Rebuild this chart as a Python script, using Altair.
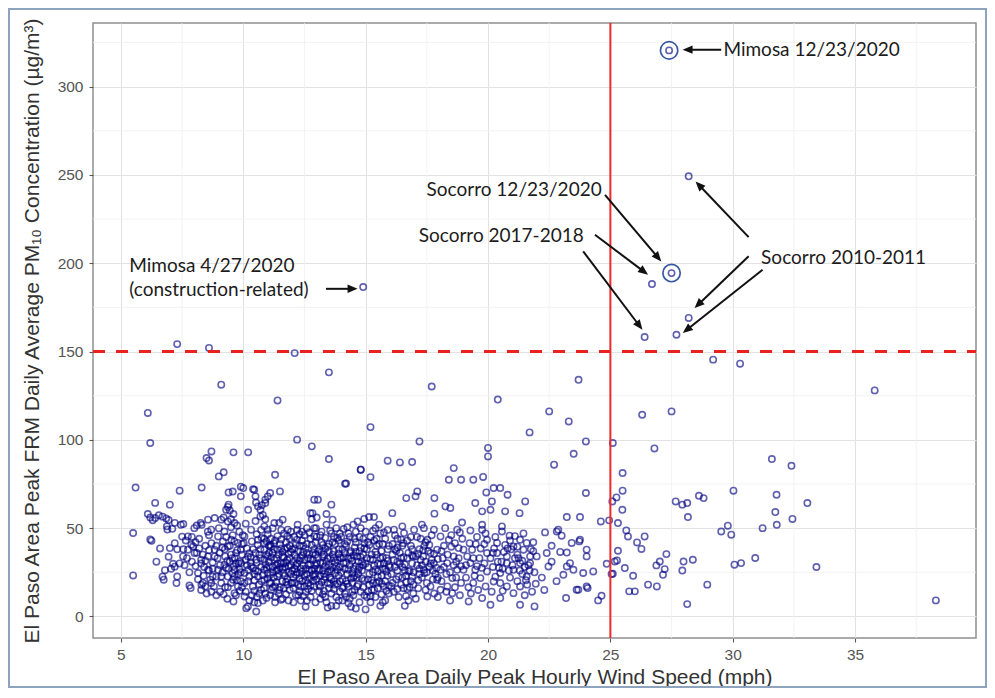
import math
import altair as alt
import pandas as pd

# ---------------- data ----------------
# [wind speed (mph), PM10 (ug/m3)]
pts_outliers = [
    [27.4, 320.5], [28.2, 249.2], [27.5, 194.4], [26.7, 188.2], [26.4, 158.2], [28.2, 169.0], [27.7, 159.5],
    [14.9, 186.5], [7.3, 154.2], [8.6, 152.0], [12.1, 149.1], [29.2, 145.4], [30.3, 143.1], [35.8, 128.0],
    [13.5, 138.2], [9.1, 131.2], [17.7, 130.2], [23.7, 134.0], [11.4, 122.3], [20.4, 122.8], [6.1, 115.2],
    [22.5, 116.1], [26.3, 114.2], [27.5, 116.1], [23.3, 110.4], [15.2, 107.2], [21.7, 104.2], [12.2, 100.1],
    [6.2, 98.2], [17.2, 99.1], [24.0, 99.1], [25.1, 98.2], [12.8, 96.3], [20.0, 95.4], [26.8, 95.1],
    [8.7, 93.4], [9.6, 92.9], [10.2, 92.9], [23.5, 92.1], [20.0, 90.6], [8.5, 89.7], [8.6, 88.3],
    [13.5, 89.1], [31.6, 89.1], [15.9, 88.2], [16.4, 87.2], [16.9, 87.4], [22.7, 85.9], [32.4, 85.3],
    [18.6, 84.0], [14.8, 83.1], [9.2, 81.6], [25.5, 81.2], [11.3, 80.2], [9.0, 79.3], [15.2, 78.9],
    [19.8, 79.0], [18.4, 77.4], [18.9, 77.4], [19.4, 77.4], [14.2, 75.3], [38.3, 9.1],
]

pts_wind_5_10 = [
    [5.6, 73.0], [5.5, 47.2], [5.5, 23.2], [6.1, 58.0], [6.2, 56.0], [6.3, 54.5], [6.2, 43.6], [6.25, 42.9],
    [6.4, 64.3], [6.45, 31.0], [6.55, 57.3], [6.4, 55.7], [6.7, 56.5], [6.85, 55.5], [6.95, 54.6], [6.8, 26.2],
    [6.75, 20.8], [6.7, 22.5], [7.0, 63.3], [6.9, 49.2], [7.1, 49.6], [7.2, 53.0], [7.45, 51.9], [7.55, 52.3],
    [7.0, 38.7], [7.2, 41.5], [7.3, 38.0], [7.2, 28.2], [7.3, 22.6], [7.27, 18.9], [7.5, 45.2], [7.55, 38.0],
    [7.7, 33.0], [7.85, 16.1], [7.9, 45.0], [7.95, 39.6], [6.88, 51.0], [7.13, 29.8], [7.54, 34.0], [7.74, 37.8],
    [7.74, 45.3], [7.88, 40.6], [7.8, 17.5], [7.4, 71.2], [7.05, 27.0], [6.6, 38.5], [6.95, 33.8],
    [8.0, 50.0], [8.1, 51.5], [8.26, 53.0], [8.3, 51.9], [8.56, 54.8], [8.83, 55.7], [8.1, 36.0], [8.28, 30.0],
    [8.35, 19.0], [8.28, 15.0], [8.55, 48.0], [8.6, 46.0], [8.7, 41.5], [8.83, 37.7], [8.6, 26.0], [8.75, 22.6],
    [8.65, 20.8], [8.8, 17.0], [8.01, 35.9], [8.28, 32.1], [8.56, 34.0], [8.15, 24.6], [8.29, 17.9], [8.69, 18.9],
    [8.83, 34.0], [8.97, 26.4], [8.56, 26.4], [8.9, 22.6], [8.69, 49.1], [8.97, 45.3], [8.4, 28.0], [8.5, 13.0],
    [8.9, 12.0], [8.45, 40.0], [8.2, 44.0], [8.75, 30.5], [8.3, 73.0], [8.05, 42.0], [8.38, 23.0],
    [9.1, 54.8], [9.37, 53.8], [9.64, 52.9], [9.2, 56.0], [9.5, 55.0], [9.37, 62.0], [9.45, 60.0], [9.57, 70.7],
    [9.17, 42.5], [9.37, 39.6], [9.57, 46.0], [9.64, 42.5], [9.03, 36.0], [9.26, 34.0], [9.5, 35.0], [9.7, 30.0],
    [9.1, 22.6], [9.26, 16.6], [9.37, 16.6], [9.5, 19.0], [9.64, 22.6], [9.84, 48.0], [9.98, 46.0], [9.9, 37.7],
    [9.1, 18.9], [9.23, 29.3], [9.58, 20.8], [9.78, 17.0], [9.85, 31.1], [9.23, 48.1], [9.51, 43.4], [9.78, 41.6],
    [9.64, 13.2], [9.64, 26.4], [9.91, 30.2], [9.37, 22.6], [9.2, 12.5], [9.3, 27.5], [9.8, 24.0], [9.45, 31.0],
    [9.15, 25.0], [9.7, 12.0], [9.9, 20.0], [9.4, 70.2], [9.9, 68.0], [9.9, 73.5], [9.4, 63.3], [9.3, 60.4],
    [9.6, 58.0], [9.0, 50.0],
    [7.6, 29.0], [7.8, 25.0], [7.9, 31.0], [8.05, 28.5], [8.2, 38.5], [8.35, 35.0], [8.45, 31.5], [8.6, 37.5],
    [8.75, 27.0], [8.9, 40.0], [8.95, 33.0], [8.15, 21.0], [8.45, 17.0], [8.7, 14.0], [9.05, 29.0], [9.15, 39.0],
    [9.3, 45.0], [9.4, 27.0], [9.55, 24.5], [9.65, 33.0], [9.75, 37.5], [9.85, 26.5], [9.95, 35.0], [9.05, 14.0],
    [9.35, 10.0], [9.6, 8.5], [9.85, 14.5], [9.95, 41.0], [9.5, 50.5], [9.75, 51.5], [7.4, 30.0], [7.65, 43.0],
    [9.6, 28.5], [9.7, 36.0], [9.8, 30.0], [9.9, 25.0], [9.45, 40.0], [9.55, 33.0], [9.35, 31.5], [9.25, 38.0],
    [9.95, 16.5], [9.75, 20.5],
]

pts_wind_10_15 = [
    [10.0, 72.7], [10.4, 72.1], [10.5, 68.0], [10.9, 66.1], [11.0, 68.0], [10.6, 62.3], [10.9, 64.2], [10.2, 60.4],
    [10.7, 60.4], [10.7, 56.6], [10.45, 71.7], [10.52, 64.5], [10.76, 63.0], [10.8, 57.5],
    [10.05, 11.3], [10.19, 5.7], [10.53, 2.8], [10.6, 7.6], [10.12, 4.7], [10.05, 45.3], [10.32, 49.1],
    [10.6, 43.4], [10.86, 41.6], [11.0, 49.1], [10.05, 24.6], [10.32, 28.3], [10.6, 22.6], [10.86, 26.4],
    [11.07, 18.9], [10.73, 15.1], [10.39, 17.0], [10.05, 18.9], [10.19, 34.0], [10.53, 32.1], [10.86, 32.1],
    [10.02, 41.5], [10.25, 35.8], [10.3, 30.5], [10.25, 22.6], [10.2, 26.4], [10.45, 20.5], [10.45, 14.5],
    [10.73, 49.0], [10.86, 51.0], [10.59, 40.5], [10.86, 37.7], [10.73, 28.0], [10.86, 20.8], [10.4, 38.0],
    [10.5, 26.0], [10.7, 33.0], [10.15, 29.0], [10.95, 35.0], [10.55, 11.0], [10.9, 13.0], [10.65, 18.0],
    [10.45, 24.0], [10.1, 14.0], [10.8, 9.0],
    [10.15, 38.5], [10.35, 42.5], [10.55, 46.5], [10.75, 44.5], [10.95, 42.5], [10.1, 32.0], [10.3, 33.5],
    [10.5, 36.0], [10.7, 38.0], [10.9, 29.5], [10.2, 20.0], [10.4, 27.5], [10.6, 25.5], [10.8, 23.5],
    [11.0, 21.5], [10.25, 9.0], [10.45, 8.0], [10.65, 13.0], [10.85, 16.0], [10.35, 12.0], [10.95, 10.5],
    [10.1, 52.5], [10.5, 54.0], [10.9, 55.0],
    [10.55, 30.5], [10.65, 35.0], [10.75, 20.0], [10.85, 44.0], [10.95, 27.5],
    [11.5, 70.8], [11.1, 69.9], [11.27, 52.9], [11.61, 54.8], [11.82, 49.1], [11.0, 46.5], [11.13, 44.0],
    [11.13, 39.6], [11.0, 34.0], [11.27, 32.0], [11.4, 37.7], [11.54, 30.0], [11.0, 24.5], [11.13, 19.0],
    [11.4, 22.6], [11.47, 15.0], [11.54, 9.4], [11.47, 53.0], [11.67, 47.0], [11.8, 45.5], [11.95, 48.0],
    [11.3, 43.0], [11.5, 41.0], [11.7, 38.0], [11.9, 40.0], [11.2, 28.0], [11.35, 26.0], [11.6, 27.0],
    [11.75, 30.5], [11.9, 33.0], [11.1, 12.0], [11.3, 17.0], [11.6, 20.0], [11.8, 18.0], [11.95, 24.0],
    [11.45, 35.0], [11.65, 33.5], [11.85, 25.0], [11.2, 36.0], [11.75, 12.5], [11.55, 43.5], [11.05, 28.5],
    [11.4, 30.0], [11.9, 15.0], [11.6, 10.0], [11.25, 22.0], [11.7, 23.0], [11.95, 29.0], [11.5, 16.5],
    [11.3, 8.0], [11.85, 35.5],
    [11.05, 31.0], [11.2, 25.0], [11.35, 33.0], [11.5, 28.0], [11.65, 24.5], [11.8, 21.0], [11.95, 19.0],
    [11.1, 40.5], [11.25, 38.0], [11.4, 45.5], [11.6, 36.5], [11.75, 42.0], [11.9, 44.0], [11.15, 15.0],
    [11.3, 11.0], [11.45, 13.0], [11.65, 16.0], [11.85, 9.0], [11.2, 50.0], [11.55, 49.0], [11.35, 19.5],
    [11.7, 28.0], [11.05, 36.0], [11.8, 32.0],
    [11.05, 40.0], [11.15, 33.5], [11.25, 41.5], [11.35, 29.0], [11.45, 24.0], [11.55, 38.5], [11.65, 30.0],
    [11.75, 19.5], [11.85, 28.5], [11.95, 36.5], [11.1, 23.5], [11.2, 16.5], [11.4, 26.5], [11.6, 34.0],
    [11.8, 39.0],
    [12.08, 45.0], [12.2, 49.0], [12.22, 51.9], [12.0, 38.0], [12.1, 35.0], [12.3, 40.0], [12.4, 43.0],
    [12.5, 46.0], [12.6, 50.0], [12.8, 55.0], [12.9, 50.0], [12.97, 50.0], [12.74, 58.5], [12.83, 58.5],
    [12.2, 30.0], [12.35, 27.0], [12.5, 32.0], [12.7, 35.0], [12.9, 38.0], [12.05, 22.0], [12.25, 18.0],
    [12.4, 20.0], [12.6, 24.0], [12.8, 26.0], [12.95, 29.0], [12.15, 12.0], [12.35, 9.0], [12.55, 14.0],
    [12.75, 11.0], [12.9, 17.0], [12.45, 36.5], [12.65, 29.0], [12.85, 20.0], [12.3, 24.5], [12.6, 41.0],
    [12.75, 44.0], [12.1, 27.0], [12.95, 8.0], [12.5, 17.0], [12.2, 33.0], [12.85, 32.0], [12.4, 25.5],
    [12.7, 21.5], [12.05, 16.0], [12.55, 5.5], [12.3, 46.5], [12.95, 42.0], [12.9, 66.1], [13.05, 66.1],
    [12.15, 41.0], [12.65, 19.0],
    [12.05, 31.0], [12.15, 23.5], [12.25, 37.0], [12.35, 33.0], [12.45, 29.0], [12.55, 38.5], [12.65, 33.0],
    [12.75, 29.5], [12.85, 36.0], [12.95, 24.0], [12.1, 19.0], [12.3, 14.0], [12.45, 11.5], [12.6, 9.0],
    [12.8, 14.5], [12.9, 22.5], [12.2, 43.5], [12.4, 48.0], [12.7, 47.5], [12.9, 45.5], [12.05, 8.0],
    [12.55, 27.0], [12.75, 17.5], [12.3, 21.5],
    [12.0, 26.0], [12.1, 38.5], [12.2, 25.0], [12.3, 31.5], [12.4, 34.5], [12.5, 23.0], [12.6, 36.0],
    [12.7, 26.5], [12.8, 40.5], [12.9, 27.0], [12.0, 19.0], [12.15, 29.0], [12.35, 17.0], [12.55, 20.5],
    [12.75, 32.5], [12.95, 35.0], [12.25, 12.0], [12.45, 40.0], [12.65, 15.5], [12.85, 23.5],
    [13.6, 63.3], [13.0, 45.0], [13.2, 48.0], [13.4, 52.0], [13.61, 47.0], [13.8, 50.0], [13.65, 54.8],
    [13.1, 38.0], [13.3, 35.0], [13.5, 41.0], [13.7, 37.0], [13.9, 43.0], [13.05, 27.0], [13.25, 30.0],
    [13.45, 25.0], [13.65, 28.0], [13.85, 32.0], [13.1, 18.0], [13.3, 21.0], [13.5, 16.0], [13.7, 20.0],
    [13.9, 23.0], [13.15, 10.0], [13.4, 8.0], [13.6, 6.0], [13.8, 11.0], [13.95, 14.0], [13.35, 28.5],
    [13.55, 33.0], [13.75, 24.5], [13.2, 42.0], [13.9, 38.0], [13.45, 19.0], [13.05, 33.0], [13.6, 13.0],
    [13.8, 6.0], [13.3, 14.5], [13.7, 45.0], [13.95, 28.0], [13.15, 23.0], [13.5, 29.0], [13.85, 18.5],
    [13.25, 40.5], [13.4, 58.0], [13.0, 56.0],
    [13.05, 37.0], [13.15, 30.5], [13.25, 26.0], [13.35, 38.5], [13.45, 33.0], [13.55, 22.0], [13.65, 35.0],
    [13.75, 30.5], [13.85, 26.5], [13.95, 33.5], [13.1, 14.0], [13.2, 19.5], [13.35, 11.0], [13.55, 18.5],
    [13.7, 15.5], [13.9, 9.0], [13.15, 46.0], [13.35, 44.5], [13.55, 48.5], [13.75, 41.0], [13.95, 47.0],
    [13.45, 5.0], [13.6, 25.5], [13.25, 34.0],
    [13.0, 30.0], [13.1, 26.0], [13.2, 36.5], [13.3, 24.0], [13.4, 31.0], [13.5, 37.0], [13.6, 21.0],
    [13.7, 33.0], [13.8, 28.5], [13.9, 35.5], [13.0, 21.0], [13.15, 17.0], [13.35, 22.5], [13.55, 26.5],
    [13.75, 18.0], [13.95, 20.0], [13.25, 12.5], [13.45, 39.5], [13.65, 42.0], [13.85, 44.5],
    [14.1, 49.5], [14.0, 45.0], [14.3, 47.0], [14.5, 52.0], [14.67, 53.8], [14.8, 50.0], [14.94, 55.2],
    [14.2, 40.0], [14.4, 37.0], [14.6, 42.0], [14.8, 39.0], [14.1, 30.0], [14.3, 33.0], [14.5, 27.0],
    [14.7, 31.0], [14.9, 35.0], [14.05, 21.0], [14.25, 24.0], [14.45, 19.0], [14.65, 22.0], [14.85, 26.0],
    [14.15, 13.0], [14.35, 10.0], [14.55, 15.0], [14.75, 8.0], [14.95, 12.0], [14.4, 5.5], [14.6, 28.5],
    [14.3, 17.0], [14.7, 18.0], [14.5, 34.5], [14.9, 44.0], [14.15, 36.0], [14.8, 14.0], [14.45, 24.5],
    [14.05, 9.0], [14.6, 4.5], [14.35, 29.0], [14.95, 20.5], [14.2, 20.0], [14.16, 75.1], [14.8, 83.1],
    [14.05, 38.0], [14.15, 27.0], [14.25, 42.5], [14.35, 36.0], [14.45, 31.5], [14.55, 39.0], [14.65, 34.0],
    [14.75, 28.0], [14.85, 31.0], [14.95, 38.5], [14.1, 17.0], [14.2, 11.0], [14.4, 21.5], [14.5, 12.0],
    [14.7, 24.0], [14.9, 16.5], [14.25, 50.5], [14.6, 48.0], [14.75, 45.0], [14.0, 33.0], [14.55, 23.0],
    [14.3, 7.5],
    [14.0, 25.0], [14.1, 33.5], [14.2, 30.5], [14.3, 26.5], [14.4, 33.0], [14.5, 22.0], [14.6, 36.5],
    [14.7, 26.5], [14.8, 33.5], [14.9, 29.0], [14.05, 16.0], [14.25, 18.5], [14.45, 14.0], [14.65, 17.0],
    [14.85, 21.5], [14.15, 41.0], [14.35, 45.0], [14.55, 44.0], [14.75, 37.0], [14.95, 41.5],
]

pts_wind_15_20 = [
    [15.14, 56.3], [15.34, 56.3], [15.0, 48.0], [15.2, 45.0], [15.4, 50.0], [15.6, 47.0], [15.8, 44.0],
    [15.05, 38.0], [15.25, 35.0], [15.45, 40.0], [15.65, 37.0], [15.85, 33.0], [15.1, 28.0], [15.3, 25.0],
    [15.5, 30.0], [15.7, 27.0], [15.9, 23.0], [15.15, 18.0], [15.35, 15.0], [15.55, 20.0], [15.75, 17.0],
    [15.95, 13.0], [15.2, 8.0], [15.4, 11.0], [15.6, 6.0], [15.0, 4.0], [15.8, 9.0], [15.5, 22.5],
    [15.3, 32.0], [15.9, 38.0], [15.65, 12.5], [15.1, 14.0], [15.45, 44.0], [15.75, 30.0], [16.09, 58.5],
    [15.25, 20.5], [15.85, 25.5],
    [15.05, 33.0], [15.15, 24.0], [15.35, 29.0], [15.45, 35.0], [15.6, 33.0], [15.7, 41.0], [15.8, 20.0],
    [15.95, 29.0], [15.1, 42.0], [15.3, 48.5], [15.55, 52.0], [15.9, 49.0], [15.2, 11.5], [15.5, 16.0],
    [15.7, 8.0], [15.95, 17.5], [15.4, 26.5], [15.65, 23.0],
    [15.0, 30.0], [15.1, 21.0], [15.2, 32.5], [15.3, 19.0], [15.4, 36.5], [15.5, 25.5], [15.6, 29.5],
    [15.7, 33.5], [15.8, 27.0], [15.9, 31.5], [15.05, 11.0], [15.25, 15.0], [15.45, 19.0], [15.65, 18.5],
    [15.85, 14.5], [15.15, 40.5], [15.35, 43.0], [15.55, 41.0], [15.75, 47.5], [15.95, 40.0],
    [16.16, 49.1], [16.57, 47.2], [16.98, 49.1], [16.3, 44.0], [16.5, 40.0], [16.7, 43.0], [16.9, 38.0],
    [16.1, 35.0], [16.3, 31.0], [16.5, 28.0], [16.7, 33.0], [16.9, 30.0], [16.05, 24.0], [16.25, 21.0],
    [16.45, 18.0], [16.65, 23.0], [16.85, 20.0], [16.15, 14.0], [16.35, 11.0], [16.55, 16.0], [16.75, 9.0],
    [16.95, 13.0], [16.4, 36.0], [16.8, 26.0], [16.2, 28.0], [16.6, 6.0], [16.95, 25.0], [16.3, 39.0],
    [16.7, 15.5], [16.5, 51.0], [16.66, 67.0], [17.04, 68.0], [17.11, 70.8],
    [16.1, 41.0], [16.25, 37.0], [16.4, 30.0], [16.55, 33.5], [16.6, 26.0], [16.75, 36.0], [16.85, 45.0],
    [16.95, 34.0], [16.1, 19.0], [16.3, 15.5], [16.5, 22.0], [16.65, 11.5], [16.8, 16.5], [16.2, 46.0],
    [16.45, 43.5], [16.9, 22.5],
    [16.0, 28.0], [16.15, 32.0], [16.3, 26.0], [16.45, 33.0], [16.6, 29.5], [16.75, 25.5], [16.9, 34.5],
    [16.05, 17.0], [16.35, 22.5], [16.65, 19.5], [16.95, 18.0], [16.2, 38.0], [16.55, 41.5], [16.85, 40.0],
    [17.38, 50.0], [17.52, 43.4], [17.65, 35.9], [17.92, 37.8], [17.38, 26.4], [17.79, 30.2], [18.06, 26.4],
    [17.92, 20.8], [17.65, 17.0], [18.06, 15.1], [17.52, 11.3], [17.3, 52.0], [17.79, 49.1], [18.06, 45.3],
    [17.1, 45.0], [17.2, 38.0], [17.25, 32.0], [17.1, 29.0], [17.3, 22.0], [17.15, 16.0], [17.4, 40.0],
    [17.6, 28.0], [17.85, 24.0], [17.05, 10.0], [17.7, 46.0], [17.5, 19.0], [17.2, 24.0], [17.95, 32.5],
    [17.35, 34.0], [17.8, 13.0], [17.81, 67.0], [17.81, 58.2], [18.26, 62.3], [18.46, 61.4],
    [17.15, 35.5], [17.3, 29.0], [17.45, 31.0], [17.55, 37.0], [17.7, 32.0], [17.9, 27.5], [17.25, 44.0],
    [17.6, 40.5], [17.45, 15.0], [17.75, 21.0], [17.95, 11.0], [17.4, 24.5],
    [17.05, 34.0], [17.2, 27.0], [17.35, 37.5], [17.5, 25.0], [17.65, 30.0], [17.8, 35.5], [17.95, 22.0],
    [17.15, 20.5], [17.45, 42.0], [17.75, 26.0],
    [18.4, 43.4], [18.8, 38.7], [19.15, 34.0], [19.0, 26.4], [18.54, 21.7], [18.34, 17.0], [18.54, 13.2],
    [18.74, 26.4], [18.6, 34.0], [18.33, 30.2], [18.94, 53.2], [18.74, 49.1], [18.2, 40.0], [18.5, 46.0],
    [18.3, 24.0], [18.9, 19.0], [18.15, 33.0], [18.7, 31.0], [18.45, 9.0], [18.85, 12.0], [18.95, 44.0],
    [18.1, 20.0], [18.6, 29.0], [18.25, 50.0],
    [18.1, 37.0], [18.35, 35.0], [18.5, 39.5], [18.65, 41.5], [18.8, 33.0], [18.2, 28.0], [18.45, 25.0],
    [18.7, 22.0], [18.9, 28.5], [18.3, 14.0], [18.65, 16.5], [18.85, 47.5],
    [19.21, 8.5], [19.76, 10.4], [19.28, 48.7], [19.76, 51.9], [19.76, 49.1], [19.69, 21.7], [19.96, 25.5],
    [19.28, 30.2], [19.48, 26.4], [19.0, 37.8], [19.35, 37.8], [19.96, 43.4], [19.96, 35.9], [19.4, 19.0],
    [19.6, 15.0], [19.85, 30.0], [19.1, 22.0], [19.5, 41.0], [19.65, 33.0], [19.3, 13.0], [19.9, 17.0],
    [19.55, 45.0], [19.48, 64.2], [19.76, 59.5], [19.93, 70.2],
    [19.1, 29.0], [19.25, 41.5], [19.4, 33.0], [19.55, 28.5], [19.7, 38.5], [19.85, 41.0], [19.2, 16.5],
    [19.45, 23.0], [19.75, 27.5], [19.9, 47.0],
]

pts_wind_20_up = [
    [20.23, 72.7], [20.5, 72.7], [20.8, 68.9], [20.16, 65.1], [21.52, 65.1], [20.1, 60.4], [20.7, 59.5],
    [21.29, 58.5], [20.1, 6.6], [20.5, 10.4], [20.23, 19.8], [20.5, 24.6], [20.77, 17.0], [21.04, 13.2],
    [20.77, 30.2], [20.5, 18.9], [20.37, 35.9], [20.77, 34.0], [20.37, 41.6], [21.04, 39.6], [20.57, 51.0],
    [20.57, 48.1], [20.88, 45.7], [20.2, 28.0], [20.6, 27.0], [20.9, 22.0], [20.3, 45.0], [20.95, 38.0],
    [20.15, 14.0], [20.7, 40.5], [20.4, 31.0],
    [20.1, 33.0], [20.25, 38.5], [20.45, 27.5], [20.65, 36.5], [20.85, 26.0], [21.1, 33.0], [21.2, 20.0],
    [21.4, 24.0], [21.65, 29.0], [21.85, 37.0], [20.3, 22.5], [20.6, 14.5], [21.1, 45.5], [21.4, 31.5],
    [21.7, 26.0], [21.95, 18.5],
    [20.2, 36.0], [20.55, 31.0], [20.8, 38.5], [21.0, 29.0], [21.25, 33.0], [21.5, 28.0], [21.75, 38.0],
    [21.2, 39.5], [20.9, 43.0], [21.55, 20.5],
    [21.31, 6.6], [21.9, 5.7], [21.31, 17.0], [21.58, 22.6], [21.72, 30.2], [21.31, 30.2], [21.04, 26.4],
    [21.45, 37.8], [21.72, 34.0], [21.99, 34.0], [21.31, 43.4], [21.58, 41.6], [21.3, 26.0], [21.6, 18.0],
    [21.9, 25.0], [21.2, 35.0], [21.8, 14.0], [21.5, 12.0], [21.85, 42.0], [21.45, 47.0],
    [22.4, 35.9], [22.47, 28.3], [22.33, 47.6], [22.87, 49.1], [23.01, 45.7], [22.81, 48.1], [22.6, 40.0],
    [22.2, 22.0], [22.8, 20.0], [22.3, 15.0], [22.6, 31.0], [22.95, 36.5],
    [23.42, 41.6], [23.76, 43.4], [24.03, 37.8], [24.03, 34.0], [23.89, 24.6], [24.03, 17.0], [23.62, 15.1],
    [23.19, 10.4], [23.22, 28.3], [23.35, 30.2], [23.08, 23.6], [23.49, 26.4], [23.73, 42.5], [23.22, 36.2],
    [24.3, 25.5], [23.69, 15.1], [24.07, 16.1], [23.22, 56.3], [23.76, 56.3], [24.0, 69.9], [24.85, 29.8],
    [25.1, 24.2], [24.64, 11.7], [24.5, 9.1], [24.61, 53.8], [24.95, 54.4],
    [25.08, 65.1], [25.25, 67.4], [25.49, 60.4], [25.5, 71.2], [25.31, 52.9], [25.65, 48.7], [25.72, 45.3],
    [25.31, 37.2], [25.27, 31.7], [25.59, 27.4], [25.93, 23.0], [25.77, 14.2], [26.0, 14.2], [26.09, 41.9],
    [26.27, 38.2], [26.4, 45.3], [25.18, 31.1], [25.05, 24.0],
    [26.54, 18.0], [26.9, 17.0], [26.88, 28.9], [27.02, 31.1], [27.29, 35.3], [27.22, 26.8], [27.15, 23.6],
    [27.67, 65.1], [27.94, 63.3], [28.14, 64.2], [28.62, 68.3], [28.81, 67.0], [28.17, 56.3], [27.99, 31.1],
    [28.37, 32.1], [27.94, 26.0], [28.96, 18.0], [28.14, 7.0],
    [29.53, 48.1], [29.8, 51.4], [29.94, 46.3], [30.03, 71.2], [30.07, 29.3], [30.34, 30.2], [30.92, 33.1],
    [31.22, 50.0], [31.74, 59.1], [31.8, 51.9], [31.79, 68.9], [32.44, 55.2], [33.05, 64.2], [33.42, 28.0],
]

# highlighted (circled) events
ring_x = [27.4, 27.5]
ring_y = [320.5, 194.4]

# annotation labels
ann_text = ["Mimosa 12/23/2020", "Socorro 12/23/2020", "Socorro 2017-2018", "Socorro 2010-2011",
            "Mimosa 4/27/2020", "(construction-related)"]
ann_x = [29.62, 17.49, 17.17, 31.16, 5.34, 5.34]
ann_y = [320.9, 241.6, 215.2, 202.9, 198.6, 185.0]

# annotation arrows (tail -> head)
arrow_x1 = [29.53, 24.78, 24.37, 23.89, 30.65, 30.65, 31.22, 13.38]
arrow_y1 = [320.9, 238.7, 216.1, 206.7, 214.8, 203.9, 196.3, 185.5]
arrow_x2 = [27.95, 27.08, 26.54, 26.31, 28.48, 28.44, 27.96, 14.67]
arrow_y2 = [320.9, 201.0, 193.5, 162.3, 246.3, 174.6, 160.5, 185.5]

x_ticks = [5, 10, 15, 20, 25, 30, 35]
y_ticks = [0, 50, 100, 150, 200, 250, 300]
x_minor = [7.5, 12.5, 17.5, 22.5, 27.5, 32.5, 37.5]
y_minor = [25, 75, 125, 175, 225, 275, 325]
pm10_standard = [150]
wind_threshold = [25]

x_domain = [3.86, 39.94]
y_domain = [-12.2, 336.0]

# ---------------- build tables ----------------
W, H = 883, 615
all_pts = pts_outliers + pts_wind_5_10 + pts_wind_10_15 + pts_wind_15_20 + pts_wind_20_up
df = pd.DataFrame(all_pts, columns=["wind", "pm10"])
rings = pd.DataFrame({"wind": ring_x, "pm10": ring_y})
ann = pd.DataFrame({"wind": ann_x, "pm10": ann_y, "label": ann_text})

kx = W / (x_domain[1] - x_domain[0])
ky = H / (y_domain[1] - y_domain[0])
rows = []
for x1, y1, x2, y2 in zip(arrow_x1, arrow_y1, arrow_x2, arrow_y2):
    dxp = (x2 - x1) * kx
    dyp = -(y2 - y1) * ky
    L = math.hypot(dxp, dyp)
    ux, uy = dxp / L, dyp / L
    back = 6.0
    xe = x2 - back * ux / kx
    ye = y2 + back * uy / ky
    ang = math.degrees(math.atan2(dxp, -dyp)) % 360
    rows.append({"x1": x1, "y1": y1, "xe": xe, "ye": ye, "x2": x2, "y2": y2, "ang": ang})
arrows = pd.DataFrame(rows)

xs = alt.Scale(domain=x_domain, nice=False, zero=False)
ys = alt.Scale(domain=y_domain, nice=False, zero=False)

FONT = "Liberation Sans"
x_axis = alt.Axis(values=x_ticks, grid=True, gridColor="#e2e2e2", gridWidth=1.1, domain=False,
                  tickColor="#555555", tickSize=4, tickWidth=1.1, labelColor="#555555",
                  labelFont=FONT, labelFontSize=15.5, labelPadding=5,
                  title="El Paso Area Daily Peak Hourly Wind Speed (mph)",
                  titleFont=FONT, titleFontSize=21, titleFontWeight="normal", titleColor="#333333",
                  titleX=W / 2, titleY=39, titleAlign="center", titleBaseline="middle")
y_axis = alt.Axis(values=y_ticks, grid=True, gridColor="#e2e2e2", gridWidth=1.1, domain=False,
                  tickColor="#555555", tickSize=4, tickWidth=1.1, labelColor="#555555",
                  labelFont=FONT, labelFontSize=15.5, labelPadding=6,
                  title="El Paso Area Peak FRM Daily Average PM\u2081\u2080 Concentration (\u00b5g/m\u00b3)",
                  titleFont=FONT, titleFontSize=21, titleFontWeight="normal", titleColor="#333333",
                  titleX=-61, titleY=H / 2, titleAngle=270, titleAlign="center", titleBaseline="middle")

minor_v = alt.Chart(pd.DataFrame({"wind": x_minor})).mark_rule(color="#f0f0f0", strokeWidth=0.8).encode(
    x=alt.X("wind:Q", scale=xs, axis=x_axis))
minor_h = alt.Chart(pd.DataFrame({"pm10": y_minor})).mark_rule(color="#f0f0f0", strokeWidth=0.8).encode(
    y=alt.Y("pm10:Q", scale=ys, axis=y_axis))

points = alt.Chart(df).mark_point(shape="circle", filled=False, size=40, strokeWidth=1.6,
                                  color="#000080", opacity=0.62).encode(
    x=alt.X("wind:Q", scale=xs, axis=x_axis),
    y=alt.Y("pm10:Q", scale=ys, axis=y_axis))

ring_marks = alt.Chart(rings).mark_point(shape="circle", filled=False, size=300, strokeWidth=1.7,
                                         color="#2f4f9f", opacity=0.95).encode(
    x=alt.X("wind:Q", scale=xs), y=alt.Y("pm10:Q", scale=ys))

hline = alt.Chart(pd.DataFrame({"pm10": pm10_standard})).mark_rule(
    color="#e8231f", strokeWidth=3, strokeDash=[12, 11], strokeDashOffset=3).encode(
    y=alt.Y("pm10:Q", scale=ys))
vline = alt.Chart(pd.DataFrame({"wind": wind_threshold})).mark_rule(
    color="#ee2a2a", strokeWidth=2).encode(x=alt.X("wind:Q", scale=xs))

arrow_lines = alt.Chart(arrows).mark_rule(color="#111111", strokeWidth=2).encode(
    x=alt.X("x1:Q", scale=xs), y=alt.Y("y1:Q", scale=ys), x2="xe:Q", y2="ye:Q")
arrow_heads = alt.Chart(arrows).mark_point(shape="M0,0L0.42,1L-0.42,1Z", filled=True, size=400,
                                           color="#111111", opacity=1).encode(
    x=alt.X("x2:Q", scale=xs), y=alt.Y("y2:Q", scale=ys), angle=alt.Angle("ang:Q", scale=None))

labels = alt.Chart(ann).mark_text(align="left", baseline="middle", font="Lato", fontSize=19,
                                  color="#1c1c1c").encode(
    x=alt.X("wind:Q", scale=xs), y=alt.Y("pm10:Q", scale=ys), text="label:N")

frame = alt.Chart(pd.DataFrame({"f": [0]})).mark_rect(fillOpacity=0, stroke="#8ea3bd", strokeWidth=2).encode(
    x=alt.value(-84), x2=alt.value(W + 10), y=alt.value(-14), y2=alt.value(H + 49))

chart = alt.layer(minor_v, minor_h, points, ring_marks, hline, vline, arrow_lines, arrow_heads, labels, frame).properties(
    width=W, height=H,
    autosize=alt.AutoSizeParams(type="none"),
    padding={"left": 85, "top": 15, "right": 11, "bottom": 50},
    background="white",
).configure_view(stroke="#8f8f8f", strokeWidth=1.5)

chart.save("out.html", embed_options={"renderer": "svg", "actions": False})
